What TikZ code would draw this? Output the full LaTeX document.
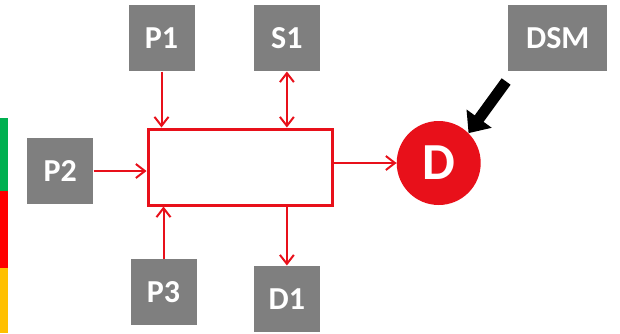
\documentclass[tikz,border=0pt]{standalone}
\usepackage{fontspec}
\setmainfont{Carlito}
\usetikzlibrary{arrows.meta, positioning}
\definecolor{tagGray}{HTML}{7F7F7F}
\definecolor{flowRed}{HTML}{E8101A}
\definecolor{barGreen}{HTML}{00B050}
\definecolor{barYellow}{HTML}{FFC000}
\tikzstyle{tag} = [rectangle, minimum width=66pt, minimum height=66pt, inner sep=0pt,
fill=tagGray, text=white, font=\fontsize{32}{32}\selectfont\bfseries]
\tikzstyle{frame} = [rectangle, minimum width=184pt, minimum height=76pt, draw=flowRed,
line width=3pt, fill=white]
\tikzstyle{demand} = [circle, minimum size=84pt, inner sep=0pt, fill=flowRed, text=white,
font=\fontsize{52}{52}\selectfont\bfseries]
\tikzstyle{arrow} = [flowRed, line width=2pt, ->, >={Straight Barb[length=9pt,width=14pt]}]
\tikzstyle{push} = [line width=11pt, -{Triangle[length=18pt,width=30pt]}]

\begin{document}
\begin{tikzpicture}[x=1pt, y=1pt]
      \useasboundingbox (0,0) rectangle (620,-333);
      % side bar
      \fill [barGreen] (0,-118) rectangle (8,-191);
      \fill [red] (0,-191) rectangle (8,-268);
      \fill [barYellow] (0,-268) rectangle (8,-333);

      \node (box) [frame] at (240,-167) {};
      \node (P1) [tag, above=56pt of box.north west, xshift=15pt] {P1};
      \node (S1) [tag, right=59pt of P1] {S1};
      \node (DSM) [tag, right=188pt of S1, minimum width=99pt] {DSM};
      \node (P2) [tag, left=53pt of box, yshift=-4pt] {P2};
      \node (P3) [tag, below=52pt of box.south west, xshift=17pt] {P3};
      \node (D1) [tag, right=57pt of P3, yshift=-7pt] {D1};
      \node (D) [demand, right=63pt of box, yshift=4pt] {D};

      \draw [arrow] (P1) -- (P1 |- box.north);
      \draw [arrow, <->] (S1) -- (S1 |- box.north);
      \draw [arrow] (P2) -- (P2 -| box.west);
      \draw [arrow] (P3) -- (P3 |- box.south);
      \draw [arrow] (D1 |- box.south) -- (D1);
      \draw [arrow] (box.east |- D) -- (D);
      \coordinate (push0) at ([xshift=-2pt, yshift=-10pt]DSM.south west);
      \draw [push] (push0) -- (D.45);
    \end{tikzpicture}
\end{document}
